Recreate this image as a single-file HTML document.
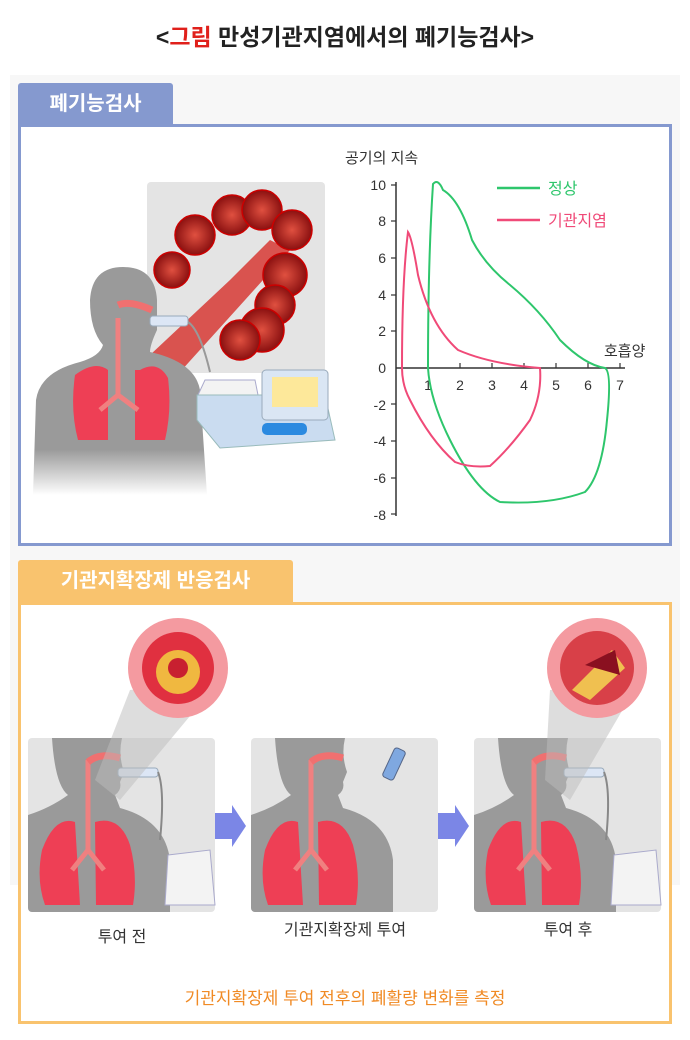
<!DOCTYPE html>
<html><head><meta charset="utf-8"><style>
body{margin:0;width:690px;height:1040px;background:#fff;font-family:"Liberation Sans","Noto Sans CJK KR",sans-serif;position:relative;overflow:hidden}
.abs{position:absolute}
</style></head><body>
<div class="abs" style="left:0;top:18px;width:690px;text-align:center;font-size:23px;font-weight:bold;color:#222">&lt;<span style="color:#e0201b">그림</span> 만성기관지염에서의 폐기능검사&gt;</div>
<div class="abs" style="left:10px;top:75px;width:670px;height:810px;background:#f7f7f7"></div>
<div class="abs" style="left:18px;top:83px;width:155px;height:42px;background:#8599cf;border-radius:3px 3px 0 0;color:#fff;font-size:20px;font-weight:bold;line-height:42px;text-align:center">폐기능검사</div>
<div class="abs" style="left:18px;top:124px;width:648px;height:416px;border:3px solid #8599cf;background:#fff"></div>
<div class="abs" style="left:18px;top:560px;width:275px;height:43px;background:#f9c36e;border-radius:3px 3px 0 0;color:#fff;font-size:20px;font-weight:bold;line-height:43px;text-align:center">기관지확장제 반응검사</div>
<div class="abs" style="left:18px;top:602px;width:648px;height:416px;border:3px solid #f9c36e;background:#fff"></div>

<svg class="abs" style="left:0;top:0" width="690" height="1040">
<defs>
<linearGradient id="fade" x1="0" y1="0" x2="0" y2="1"><stop offset="0.8" stop-color="#9a9a9a"/><stop offset="1" stop-color="#9a9a9a" stop-opacity="0"/></linearGradient>
<radialGradient id="alv"><stop offset="0" stop-color="#e05040"/><stop offset="1" stop-color="#8a1010"/></radialGradient>
<clipPath id="c1"><rect x="28" y="738" width="187" height="174" rx="4"/></clipPath>
<clipPath id="c2"><rect x="251" y="738" width="187" height="174" rx="4"/></clipPath>
<clipPath id="c3"><rect x="474" y="738" width="187" height="174" rx="4"/></clipPath>
</defs>
<!-- top illustration -->
<rect x="147" y="182" width="178" height="191" rx="4" fill="#e4e4e4"/>
<path d="M150 355 L230 280 L270 240 L290 250 L245 300 L180 372 Z" fill="#d9534f"/>
<g fill="url(#alv)" stroke="#c00" stroke-width="1.5">
<circle cx="195" cy="235" r="20"/><circle cx="232" cy="215" r="20"/><circle cx="262" cy="210" r="20"/><circle cx="292" cy="230" r="20"/>
<circle cx="172" cy="270" r="18"/><circle cx="285" cy="275" r="22"/><circle cx="275" cy="305" r="20"/><circle cx="262" cy="330" r="22"/><circle cx="240" cy="340" r="20"/>
</g>
<path d="M33 495 L36 400 Q40 372 80 362 Q100 356 103 345 Q90 330 90 300 Q92 267 123 267 Q155 267 157 300 L157 330 Q150 345 150 352 Q195 362 200 390 L207 495 Z" fill="url(#fade)"/>
<path d="M75 375 Q95 360 108 370 L108 440 L78 440 Q70 410 75 375Z M140 370 Q158 360 168 378 Q172 410 165 440 L135 440 L135 370Z" fill="#ee3f55"/>
<path d="M118 318 L118 395 M118 395 L100 410 M118 395 L138 410" stroke="#f08080" stroke-width="5" fill="none"/>
<path d="M118 305 Q130 300 152 310" stroke="#f07070" stroke-width="7" fill="none"/>
<rect x="150" y="316" width="38" height="10" rx="3" fill="#dce6f5" stroke="#9ab"/>
<path d="M188 322 Q200 330 210 372" stroke="#999" stroke-width="2" fill="none"/>
<path d="M198 395 L205 380 L255 380 L258 395 Z" fill="#f3f3f3" stroke="#aac"/>
<path d="M197 395 L325 395 L335 440 L220 448 L197 420Z" fill="#cadcf0" stroke="#9bb"/>
<rect x="262" y="370" width="66" height="50" rx="4" fill="#dae6f4" stroke="#9ab"/>
<rect x="272" y="377" width="46" height="30" fill="#fde89a"/>
<rect x="262" y="423" width="45" height="12" rx="5" fill="#2b8ae0"/>
<!-- chart -->
<text x="345" y="163" font-size="15" fill="#333">공기의 지속</text>
<g stroke="#333" stroke-width="1.5"><line x1="396" y1="182" x2="396" y2="516"/><line x1="396" y1="368" x2="625" y2="368"/></g>
<g font-size="14" fill="#333" text-anchor="end">
<text x="386" y="190">10</text><text x="386" y="226">8</text><text x="386" y="263">6</text><text x="386" y="300">4</text><text x="386" y="336">2</text><text x="386" y="373">0</text><text x="386" y="410">-2</text><text x="386" y="446">-4</text><text x="386" y="483">-6</text><text x="386" y="520">-8</text></g>
<g stroke="#333" stroke-width="1.2">
<line x1="391" y1="185" x2="396" y2="185"/><line x1="391" y1="221" x2="396" y2="221"/><line x1="391" y1="258" x2="396" y2="258"/><line x1="391" y1="295" x2="396" y2="295"/><line x1="391" y1="331" x2="396" y2="331"/><line x1="391" y1="404" x2="396" y2="404"/><line x1="391" y1="441" x2="396" y2="441"/><line x1="391" y1="478" x2="396" y2="478"/><line x1="391" y1="514" x2="396" y2="514"/>
<line x1="428" y1="363" x2="428" y2="368"/><line x1="460" y1="363" x2="460" y2="368"/><line x1="492" y1="363" x2="492" y2="368"/><line x1="524" y1="363" x2="524" y2="368"/><line x1="556" y1="363" x2="556" y2="368"/><line x1="588" y1="363" x2="588" y2="368"/><line x1="620" y1="363" x2="620" y2="368"/></g>
<g font-size="14" fill="#333" text-anchor="middle"><text x="428" y="390">1</text><text x="460" y="390">2</text><text x="492" y="390">3</text><text x="524" y="390">4</text><text x="556" y="390">5</text><text x="588" y="390">6</text><text x="620" y="390">7</text></g>
<text x="604" y="356" font-size="15" fill="#333">호흡양</text>
<path d="M428 368 Q428 260 433 184 Q438 178 443 190 Q460 200 472 240 Q485 265 510 285 Q540 310 560 340 Q585 365 605 368 Q612 372 607 420 Q602 475 585 492 Q550 505 500 502 Q475 490 450 440 Q430 400 428 368Z" fill="none" stroke="#2ec66c" stroke-width="2"/>
<path d="M402 368 Q402 280 408 232 Q412 238 418 275 Q430 325 458 350 Q490 364 540 368 Q542 395 530 420 Q510 448 490 466 Q470 468 455 462 Q430 440 410 400 Q402 385 402 368Z" fill="none" stroke="#f04a78" stroke-width="2"/>
<line x1="497" y1="188" x2="540" y2="188" stroke="#2ec66c" stroke-width="2.5"/><text x="548" y="194" font-size="16" fill="#2ec66c">정상</text>
<line x1="497" y1="220" x2="540" y2="220" stroke="#f04a78" stroke-width="2.5"/><text x="548" y="226" font-size="16" fill="#f04a78">기관지염</text>
<!-- bottom panels -->
<rect x="28" y="738" width="187" height="174" rx="4" fill="#e4e4e4"/>
<rect x="251" y="738" width="187" height="174" rx="4" fill="#e4e4e4"/>
<rect x="474" y="738" width="187" height="174" rx="4" fill="#e4e4e4"/>
<g id="p" clip-path="url(#c1)">
<path d="M52 738 Q55 785 68 795 Q50 808 28 815 L28 912 L170 912 L170 860 Q165 820 120 808 L115 795 Q122 790 120 782 L124 772 Q118 755 122 738 Z" fill="#9a9a9a"/>
<path d="M42 850 Q55 815 75 822 L80 905 L45 905 Q36 880 42 850Z M95 822 Q120 815 130 845 Q138 875 133 905 L96 905Z" fill="#ee3f55"/>
<path d="M88 760 L88 850 M88 850 L72 870 M88 850 L104 870" stroke="#f08080" stroke-width="5" fill="none"/>
<path d="M88 762 Q100 752 120 758" stroke="#f07070" stroke-width="7" fill="none"/>
</g>
<use href="#p" x="223"/><use href="#p" x="446"/>
<rect x="118" y="768" width="40" height="9" rx="3" fill="#dce6f5" stroke="#9ab"/>
<path d="M158 772 Q165 790 160 840" stroke="#888" stroke-width="2" fill="none"/>
<path d="M168 855 L210 850 L215 905 L165 905Z" fill="#f3f3f3" stroke="#aac"/>
<rect x="564" y="768" width="40" height="9" rx="3" fill="#dce6f5" stroke="#9ab"/>
<path d="M604 772 Q611 790 606 840" stroke="#888" stroke-width="2" fill="none"/>
<path d="M614 855 L656 850 L661 905 L611 905Z" fill="#f3f3f3" stroke="#aac"/>
<rect x="388" y="748" width="12" height="32" rx="3" transform="rotate(25 394 764)" fill="#7fa8e0" stroke="#568"/>
<polygon points="130,690 220,680 120,800 95,780" fill="#bbb" opacity="0.5"/>
<polygon points="550,690 640,680 570,800 545,780" fill="#bbb" opacity="0.5"/>
<circle cx="178" cy="668" r="50" fill="#f49aa0"/><circle cx="178" cy="668" r="36" fill="#e03040"/><circle cx="178" cy="672" r="22" fill="#f0b840"/><circle cx="178" cy="668" r="10" fill="#c82030"/>
<circle cx="597" cy="668" r="50" fill="#f49aa0"/><circle cx="597" cy="668" r="37" fill="#d84048"/><path d="M572 690 L612 650 L625 668 L590 700Z" fill="#f0c050"/><path d="M585 665 L615 650 L620 675Z" fill="#8a1020"/>
<polygon points="215,813 232,813 232,805 246,826 232,847 232,839 215,839" fill="#7b86e6"/>
<polygon points="438,813 455,813 455,805 469,826 455,847 455,839 438,839" fill="#7b86e6"/>
<g font-size="16" fill="#333" text-anchor="middle"><text x="122" y="942">투여 전</text><text x="345" y="935">기관지확장제 투여</text><text x="568" y="935">투여 후</text></g>
<text x="345" y="1004" font-size="17" fill="#f08a24" text-anchor="middle">기관지확장제 투여 전후의 폐활량 변화를 측정</text>
</svg>
</body></html>
